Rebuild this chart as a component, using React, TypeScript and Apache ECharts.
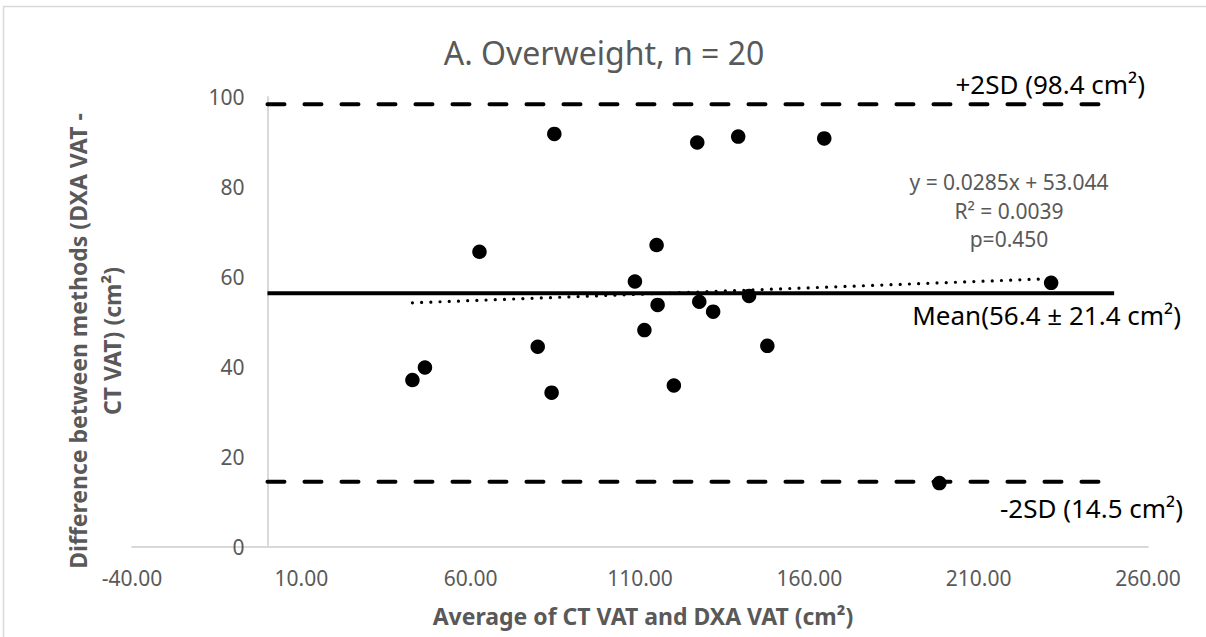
import React, { useEffect, useRef } from "react";
import * as echarts from "echarts";

// Bland-Altman data (average of CT VAT and DXA VAT, difference DXA - CT)
const avgValues = [84.7, 126.9, 139.0, 62.6, 114.9, 108.5, 115.2, 127.5, 131.6, 142.2, 111.3, 147.6, 120.0, 42.8, 46.5, 79.8, 83.9, 164.4, 231.4, 198.4];
const diffValues = [91.8, 89.9, 91.2, 65.6, 67.1, 59.0, 53.8, 54.5, 52.3, 55.8, 48.2, 44.7, 35.9, 37.1, 39.9, 44.5, 34.3, 90.8, 58.7, 14.2];

const meanDiff = 56.4;
const upperLoA = 98.4;
const lowerLoA = 14.5;
const refLineRange = [0, 250];

const trendSlope = 0.0285;
const trendIntercept = 53.044;

const xTickMin = -40;
const xTickMax = 260;
const xTickStep = 50;
const yTickMin = 0;
const yTickMax = 100;
const yTickStep = 20;
const yAxisCrossX = 0;

const titleText = "A. Overweight, n = 20";
const xTitle = "Average of CT VAT and DXA VAT (cm²)";
const yTitleLines = ["Difference between methods (DXA VAT -", "CT VAT) (cm²)"];
const upperLabel = "+2SD (98.4 cm²)";
const meanLabel = "Mean(56.4 ± 21.4 cm²)";
const lowerLabel = "-2SD (14.5 cm²)";
const equationLines = ["y = 0.0285x + 53.044", "R² = 0.0039", "p=0.450"];

const FONT = "'Noto Sans', 'Open Sans', sans-serif";
const GRAY = "#595959";

const W = 1206;
const H = 637;
const GRID = { left: 132, right: 58, top: 97, bottom: 90 };

export default function App() {
  const ref = useRef<HTMLDivElement>(null);

  useEffect(() => {
    if (!ref.current) return;
    const chart = echarts.init(ref.current, undefined, { renderer: "svg" });

    const points = avgValues.map((x, i) => [x, diffValues[i]]);
    const tMin = Math.min(...avgValues);
    const tMax = Math.max(...avgValues);
    const trend = [
      [tMin, trendSlope * tMin + trendIntercept],
      [tMax, trendSlope * tMax + trendIntercept],
    ];
    const hLine = (v: number) => refLineRange.map((x) => [x, v]);

    const plotWidth = W - GRID.left - GRID.right;
    const yAxisOffset = -((yAxisCrossX - xTickMin) / (xTickMax - xTickMin)) * plotWidth;

    const dashed = {
      color: "#000",
      width: 4,
      type: [17, 20] as number[],
      cap: "round" as const,
    };

    chart.setOption({
      animation: false,
      backgroundColor: "#ffffff",
      textStyle: { fontFamily: FONT },
      grid: { ...GRID, containLabel: false },
      xAxis: {
        type: "value",
        min: xTickMin,
        max: xTickMax,
        interval: xTickStep,
        axisLine: { show: true, onZero: false, lineStyle: { color: "#d9d9d9", width: 2 } },
        axisTick: { show: false },
        splitLine: { show: false },
        axisLabel: {
          color: GRAY,
          fontSize: 21,
          fontFamily: FONT,
          margin: 20,
          formatter: (v: number) => v.toFixed(2),
        },
      },
      yAxis: {
        type: "value",
        min: yTickMin,
        max: yTickMax,
        interval: yTickStep,
        offset: yAxisOffset,
        axisLine: { show: true, onZero: false, lineStyle: { color: "#d9d9d9", width: 2 } },
        axisTick: { show: false },
        splitLine: { show: false },
        axisLabel: { color: GRAY, fontSize: 21, fontFamily: FONT, margin: 23 },
      },
      series: [
        {
          type: "line",
          data: hLine(upperLoA),
          symbol: "none",
          lineStyle: dashed,
          silent: true,
        },
        {
          type: "line",
          data: hLine(lowerLoA),
          symbol: "none",
          lineStyle: dashed,
          silent: true,
        },
        {
          type: "line",
          data: hLine(meanDiff),
          symbol: "none",
          lineStyle: { color: "#000", width: 4, type: "solid" },
          silent: true,
        },
        {
          type: "line",
          data: trend,
          symbol: "none",
          lineStyle: { color: "#000", width: 3.2, type: [0.01, 9.2], cap: "round" },
          silent: true,
        },
        {
          type: "scatter",
          data: points,
          symbol: "circle",
          symbolSize: 14.5,
          itemStyle: { color: "#000", opacity: 1 },
        },
      ],
      graphic: [
        {
          type: "rect",
          shape: { x: 3.5, y: 6.5, width: 1230, height: 660 },
          style: { fill: "none", stroke: "#d9d9d9", lineWidth: 1.5 },
          silent: true,
          z: -10,
        },
        {
          type: "text",
          x: 604,
          y: 52,
          style: {
            text: titleText,
            fill: GRAY,
            font: `32px ${FONT}`,
            textAlign: "center",
            textVerticalAlign: "middle",
          },
        },
        {
          type: "text",
          x: 643,
          y: 616,
          style: {
            text: xTitle,
            fill: GRAY,
            font: `bold 23px ${FONT}`,
            textAlign: "center",
            textVerticalAlign: "middle",
          },
        },
        {
          type: "text",
          x: 95,
          y: 341,
          rotation: Math.PI / 2,
          style: {
            text: yTitleLines.join("\n"),
            fill: GRAY,
            font: `bold 23px ${FONT}`,
            lineHeight: 34,
            textAlign: "center",
            textVerticalAlign: "middle",
          },
        },
        {
          type: "text",
          x: 1145,
          y: 84,
          style: {
            text: upperLabel,
            fill: "#000",
            font: `26px ${FONT}`,
            textAlign: "right",
            textVerticalAlign: "middle",
          },
        },
        {
          type: "text",
          x: 1181,
          y: 315,
          style: {
            text: meanLabel,
            fill: "#000",
            font: `26px ${FONT}`,
            textAlign: "right",
            textVerticalAlign: "middle",
          },
        },
        {
          type: "text",
          x: 1183,
          y: 508,
          style: {
            text: lowerLabel,
            fill: "#000",
            font: `26px ${FONT}`,
            textAlign: "right",
            textVerticalAlign: "middle",
          },
        },
        {
          type: "text",
          x: 1009,
          y: 210.5,
          style: {
            text: equationLines.join("\n"),
            fill: GRAY,
            font: `21px ${FONT}`,
            lineHeight: 28.3,
            textAlign: "center",
            textVerticalAlign: "middle",
          },
        },
      ],
    });

    return () => chart.dispose();
  }, []);

  return (
    <div
      ref={ref}
      style={{ position: "fixed", left: 0, top: 0, width: W, height: H, background: "#fff" }}
    />
  );
}
